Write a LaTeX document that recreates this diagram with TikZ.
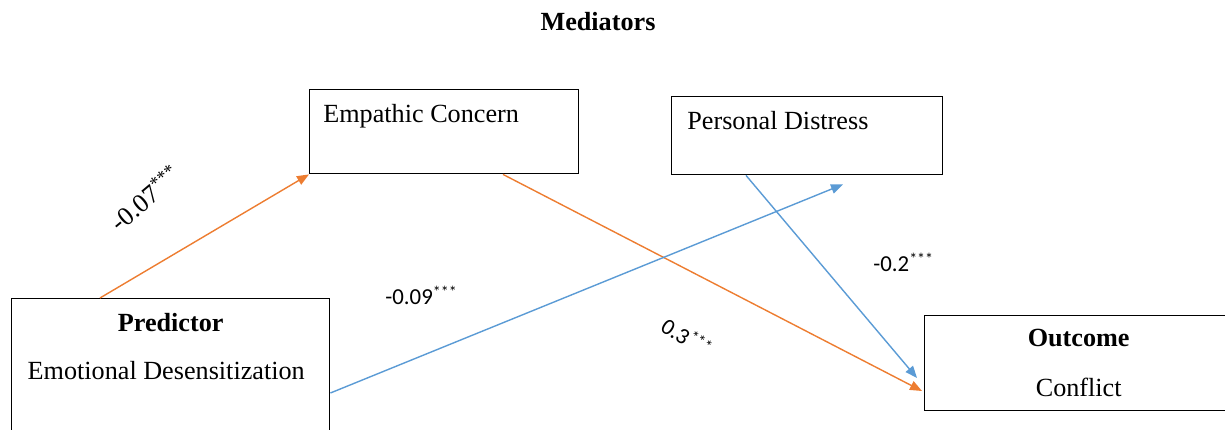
\documentclass[tikz,border=0pt]{standalone}
\usepackage{fontspec}
\setmainfont{Liberation Serif}
\newfontfamily\coeffont{Carlito}
\usetikzlibrary{arrows.meta,calc}
\definecolor{edorange}{RGB}{237,125,49}
\definecolor{edblue}{RGB}{91,155,213}
\tikzset{box/.style={draw,thick,rectangle,inner sep=0pt,anchor=north west},
    orangearrow/.style={draw=edorange,line width=0.8pt,-{Triangle[length=2.4mm,width=1.9mm]}},
    bluearrow/.style={draw=edblue,line width=0.8pt,-{Triangle[length=2.4mm,width=1.9mm]}},
    coef/.style={font=\coeffont\fontsize{13}{15}\selectfont,inner sep=0pt}
}

\begin{document}
\begin{tikzpicture}[font=\fontsize{14.9}{18}\selectfont]
    \useasboundingbox (0,0) rectangle (24.5,8.6);

    % Titre
    \node[font=\fontsize{14.9}{18}\selectfont\bfseries] (titre) at (11.96,8.16) {Mediators};

    % Dessine les boîtes
    \node[box,minimum width=6.36cm,minimum height=3.04cm] (pred) at (0.22,2.64) {};
    \node[box,minimum width=5.38cm,minimum height=1.68cm] (empathic) at (6.18,6.82) {};
    \node[box,minimum width=5.42cm,minimum height=1.56cm] (distress) at (13.42,6.68) {};
    \node[box,minimum width=6.16cm,minimum height=1.9cm] (outcome) at (18.48,2.3) {};

    % Textes des boîtes
    \node[anchor=base,font=\fontsize{14.9}{18}\selectfont\bfseries] (predtitre) at ($(pred.north)+(0,-0.68)$) {Predictor};
    \node[anchor=base] (predtexte) at ($(pred.north)+(-0.09,-1.64)$) {Emotional Desensitization};
    \node[anchor=base west,inner sep=0pt] (emptexte) at ($(empathic.north west)+(0.28,-0.68)$) {Empathic Concern};
    \node[anchor=base west,inner sep=0pt] (distexte) at ($(distress.north west)+(0.32,-0.68)$) {Personal Distress};
    \node[anchor=base,font=\fontsize{14.9}{18}\selectfont\bfseries] (outtitre) at ($(outcome.north)+(0,-0.64)$) {Outcome};
    \node[anchor=base] (outtexte) at ($(outcome.north)+(0,-1.64)$) {Conflict};

    % Dessine les flèches
    \coordinate (distip) at ($(distress.south west)+(3.44,-0.18)$);
    \draw[orangearrow] ($(pred.north west)+(1.78,0)$) -- (empathic.south west);
    \draw[orangearrow] ($(empathic.south west)+(3.88,0)$) -- ($(outcome.north west)+(-0.04,-1.52)$);
    \draw[bluearrow] ($(pred.north east)+(0,-1.9)$) -- (distip);
    \draw[bluearrow] ($(distress.south west)+(1.5,0)$) -- ($(outcome.north west)+(-0.14,-1.26)$);

    % Coefficients
    \node[rotate=40,inner sep=0pt] (c1) at (2.9,4.64) {-0.07\textsuperscript{***}};
    \node[coef,anchor=base west] (c2) at (7.7,2.5) {-0.09\textsuperscript{***}};
    \node[coef,anchor=base west] (c3) at (17.46,3.16) {-0.2\textsuperscript{***}};
    \node[coef,rotate=-33] (c4) at (13.74,1.86) {0.3\textsuperscript{***}};
\end{tikzpicture}
\end{document}
